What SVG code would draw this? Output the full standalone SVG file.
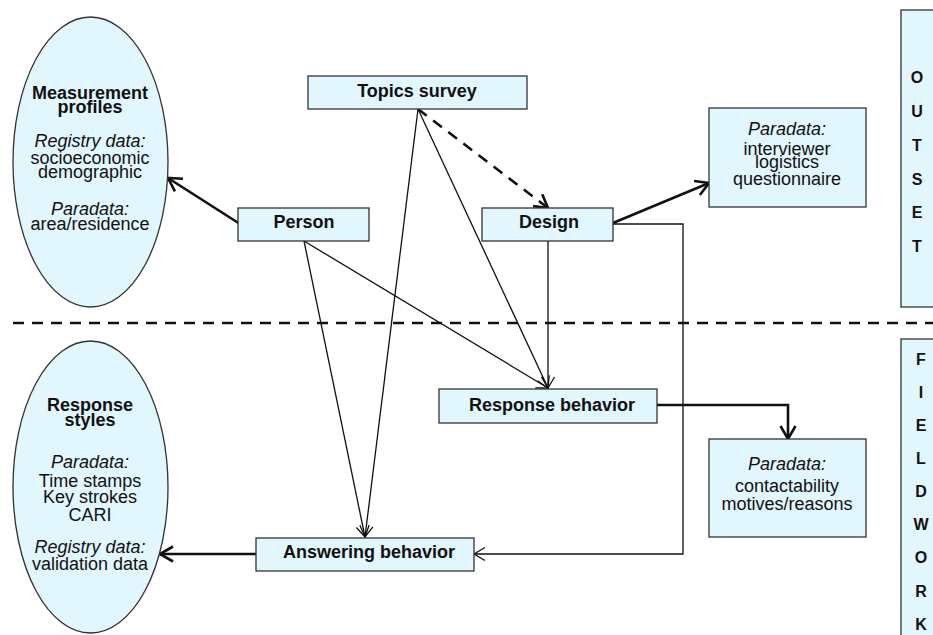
<svg xmlns="http://www.w3.org/2000/svg" width="933" height="635" viewBox="0 0 933 635">
<defs>
<style>
text{font-family:"Liberation Sans",Arial,sans-serif;font-size:18px;fill:#111;text-anchor:middle}
.b{font-weight:bold}
.i{font-style:italic}
.side{font-weight:bold;font-size:16px}
.box{fill:#e2f6fd;stroke:#333;stroke-width:1.3}
.thin{fill:none;stroke:#111;stroke-width:1.3}
.thick{fill:none;stroke:#111;stroke-width:2.6}
.dash{fill:none;stroke:#111;stroke-width:2.6;stroke-dasharray:11 8}
</style>
<marker id="ah" markerUnits="userSpaceOnUse" viewBox="-14 -10 16 20" markerWidth="16" markerHeight="20" refX="0" refY="0" orient="auto" overflow="visible">
<path d="M-11,-6.5 L0,0 L-11,6.5" fill="none" stroke="#111" stroke-width="1.3"/>
</marker>
<marker id="ahb" markerUnits="userSpaceOnUse" viewBox="-16 -10 18 20" markerWidth="18" markerHeight="20" refX="0" refY="0" orient="auto" overflow="visible">
<path d="M-13,-7.5 L0,0 L-13,7.5" fill="none" stroke="#111" stroke-width="2.6"/>
</marker>
</defs>
<rect width="933" height="635" fill="#fff"/>

<g id="separator">
<line x1="13" y1="323" x2="933" y2="323" class="dash" stroke-width="3"/>
</g>

<g id="outset">
<rect class="box" x="901" y="10" width="45" height="297"/>
<text class="side" x="917" y="83">O</text>
<text class="side" x="917" y="117">U</text>
<text class="side" x="917" y="151">T</text>
<text class="side" x="917" y="185">S</text>
<text class="side" x="917" y="218">E</text>
<text class="side" x="917" y="252">T</text>
</g>

<g id="fieldwork">
<rect class="box" x="901" y="339" width="45" height="310"/>
<text class="side" x="921" y="365">F</text>
<text class="side" x="921" y="398">I</text>
<text class="side" x="921" y="431">E</text>
<text class="side" x="921" y="464">L</text>
<text class="side" x="921" y="497">D</text>
<text class="side" x="921" y="530">W</text>
<text class="side" x="921" y="563">O</text>
<text class="side" x="921" y="597">R</text>
<text class="side" x="921" y="630">K</text>
</g>

<g id="connectors">
<line class="thick" x1="240" y1="224" x2="168" y2="178" marker-end="url(#ahb)"/>
<line class="dash" x1="418" y1="109" x2="548" y2="208" marker-end="url(#ahb)" stroke-dasharray="10 7"/>
<line class="thin" x1="418" y1="109" x2="365" y2="537" marker-end="url(#ah)"/>
<line class="thin" x1="418" y1="109" x2="548" y2="388" marker-end="url(#ah)"/>
<line class="thin" x1="304" y1="241" x2="365" y2="537" marker-end="url(#ah)"/>
<line class="thin" x1="304" y1="241" x2="548" y2="388" marker-end="url(#ah)"/>
<line class="thin" x1="548" y1="241" x2="548" y2="388" marker-end="url(#ah)"/>
<line class="thick" x1="613" y1="223" x2="709" y2="183" marker-end="url(#ahb)"/>
<polyline class="thin" points="613,224 683,224 683,554 474,554" marker-end="url(#ah)"/>
<polyline class="thick" points="657,405 788,405 788,439" marker-end="url(#ahb)"/>
<line class="thick" x1="256" y1="554" x2="160" y2="554" marker-end="url(#ahb)"/>
</g>

<g id="measurement-profiles">
<ellipse class="box" cx="90.5" cy="162" rx="77.5" ry="145"/>
<text class="b" x="90" y="99">Measurement</text>
<text class="b" x="90" y="113">profiles</text>
<text class="i" x="90" y="147">Registry data:</text>
<text x="90" y="164">socioeconomic</text>
<text x="90" y="178">demographic</text>
<text class="i" x="90" y="215">Paradata:</text>
<text x="90" y="230">area/residence</text>
</g>

<g id="response-styles">
<ellipse class="box" cx="90.5" cy="487" rx="77.5" ry="146"/>
<text class="b" x="90" y="411">Response</text>
<text class="b" x="90" y="426">styles</text>
<text class="i" x="90" y="468">Paradata:</text>
<text x="90" y="487">Time stamps</text>
<text x="90" y="503">Key strokes</text>
<text x="90" y="521">CARI</text>
<text class="i" x="90" y="553">Registry data:</text>
<text x="90" y="570">validation data</text>
</g>

<g id="topics-survey">
<rect class="box" x="308" y="76" width="219" height="33"/>
<text class="b" x="417" y="97">Topics survey</text>
</g>

<g id="person">
<rect class="box" x="238" y="208" width="131" height="33"/>
<text class="b" x="304" y="228">Person</text>
</g>

<g id="design">
<rect class="box" x="482" y="208" width="131" height="33"/>
<text class="b" x="549" y="228">Design</text>
</g>

<g id="paradata-design">
<rect class="box" x="709" y="108" width="157" height="99"/>
<text class="i" x="787" y="135">Paradata:</text>
<text x="787" y="155">interviewer</text>
<text x="787" y="168">logistics</text>
<text x="787" y="185">questionnaire</text>
</g>

<g id="response-behavior">
<rect class="box" x="439" y="389" width="218" height="34"/>
<text class="b" x="552" y="411">Response behavior</text>
</g>

<g id="paradata-response">
<rect class="box" x="709" y="439" width="157" height="98"/>
<text class="i" x="787" y="470">Paradata:</text>
<text x="787" y="492">contactability</text>
<text x="787" y="510">motives/reasons</text>
</g>

<g id="answering-behavior">
<rect class="box" x="256" y="538" width="218" height="33"/>
<text class="b" x="369" y="558">Answering behavior</text>
</g>
</svg>
